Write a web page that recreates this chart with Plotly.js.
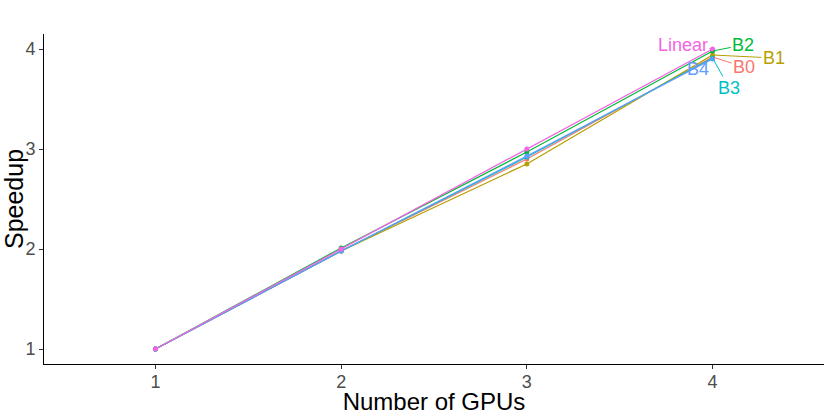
<!DOCTYPE html>
<html>
<head>
<meta charset="utf-8">
<script src="https://cdn.plot.ly/plotly-3.0.1.min.js"></script>
<style>html,body{margin:0;padding:0;background:#fff;}#chart{width:830px;height:415px;}</style>
</head>
<body>
<div id="chart"></div>
<script>
const gpus = [1, 2, 3, 4];
const seriesNames = ["B0", "B1", "B2", "B3", "B4", "Linear"];
const B0 = [1, 1.98, 2.90, 3.92];
const B1 = [1, 1.98, 2.85, 3.94];
const B2 = [1, 2.01, 2.97, 3.98];
const B3 = [1, 1.98, 2.92, 3.91];
const B4 = [1, 1.98, 2.93, 3.90];
const Linear = [1, 2, 3, 4];
const seriesValues = [B0, B1, B2, B3, B4, Linear];
const colors = ["#F8766D", "#B79F00", "#00BA38", "#00BFC4", "#619CFF", "#F564E3"];
// label placement (repelled label centres, in data units)
const labelPos = [[4.17, 3.82], [4.33, 3.91], [4.165, 4.04], [4.09, 3.61], [3.92, 3.80], [3.84, 4.04]];

const traces = seriesNames.map((n, i) => ({
  x: gpus, y: seriesValues[i], name: n, type: "scatter", mode: "lines+markers",
  line: {color: colors[i], width: 1.3}, marker: {color: colors[i], size: 5},
  showlegend: false, hoverinfo: "x+y+name"
}));

const annotations = seriesNames.map((n, i) => {
  const last = seriesValues[i].length - 1;
  return {
    x: gpus[last], y: seriesValues[i][last], xref: "x", yref: "y",
    ax: labelPos[i][0], ay: labelPos[i][1], axref: "x", ayref: "y",
    text: n, showarrow: true, arrowhead: 0, arrowwidth: 1, arrowcolor: colors[i],
    standoff: 1, startstandoff: 0,
    font: {family: "Liberation Sans, Arial, sans-serif", size: 18, color: colors[i]}
  };
});

const layout = {
  width: 830, height: 415,
  margin: {l: 44, r: 6, t: 34, b: 51},
  paper_bgcolor: "#fff", plot_bgcolor: "#fff",
  font: {family: "Liberation Sans, Arial, sans-serif"},
  xaxis: {
    range: [0.4, 4.6], tickvals: gpus, ticktext: gpus.map(String),
    showgrid: false, zeroline: false, showline: true, linecolor: "#000", linewidth: 1,
    ticks: "outside", ticklen: 4, tickcolor: "#333", tickwidth: 1,
    ticklabelstandoff: -3,
    tickfont: {size: 18, color: "#4D4D4D"},
    title: {text: "Number of GPUs", font: {size: 24, color: "#000"}, standoff: 0}
  },
  yaxis: {
    range: [0.85, 4.15], tickvals: [1, 2, 3, 4], ticktext: ["1", "2", "3", "4"],
    showgrid: false, zeroline: false, showline: true, linecolor: "#000", linewidth: 1,
    ticks: "outside", ticklen: 4, tickcolor: "#333", tickwidth: 1,
    tickfont: {size: 18, color: "#4D4D4D"},
    title: {text: "Speedup", font: {size: 25, color: "#000"}, standoff: 6}
  },
  annotations: annotations
};

Plotly.newPlot("chart", traces, layout, {displayModeBar: false, staticPlot: true});
</script>
</body>
</html>
